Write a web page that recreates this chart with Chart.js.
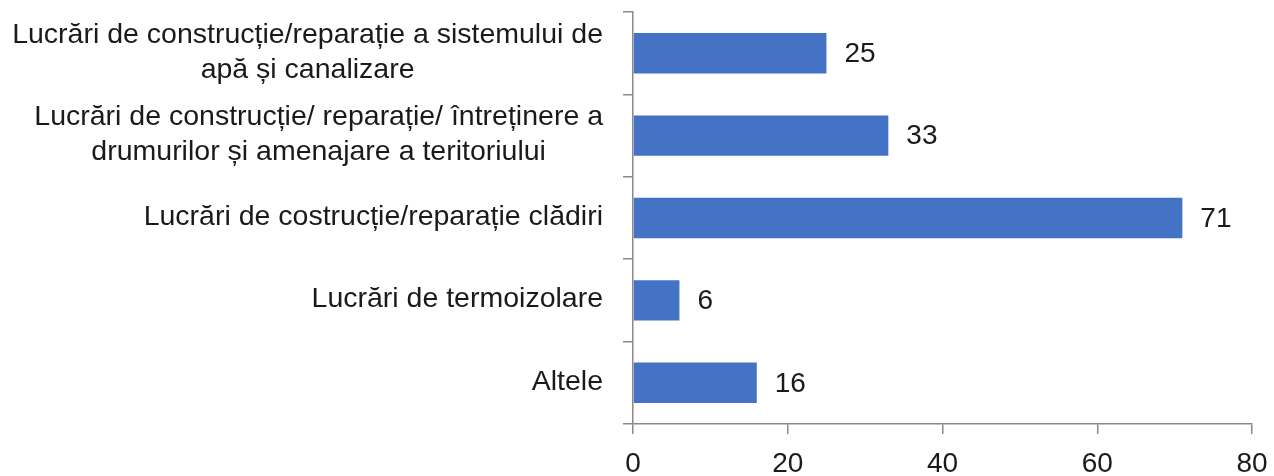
<!DOCTYPE html>
<html>
<head>
<meta charset="utf-8">
<script src="https://cdn.jsdelivr.net/npm/chart.js@4/dist/chart.umd.min.js"></script>
<style>
html,body{margin:0;padding:0;background:#fff;}
#wrap{width:1274px;height:476px;}
</style>
</head>
<body>
<div id="wrap"><canvas id="c" width="1274" height="476"></canvas></div>
<script>
const categories = [
  ["Lucrări de construcție/reparație a sistemului de", "apă și canalizare"],
  ["Lucrări de construcție/ reparație/ întreținere a", "drumurilor și amenajare a teritoriului"],
  ["Lucrări de costrucție/reparație clădiri"],
  ["Lucrări de termoizolare"],
  ["Altele"]
];
const values = [25, 33, 71, 6, 16];
const xTicks = [0, 20, 40, 60, 80];

const FONT = "'Liberation Sans', Arial, sans-serif";
const TEXT = '#1a1a1a';
const AXIS = '#8a8a8a';

const labelPlugin = {
  id: 'customLabels',
  afterDraw(chart) {
    const ctx = chart.ctx;
    const y = chart.scales.y;
    ctx.save();
    ctx.fillStyle = TEXT;
    ctx.font = '28.5px ' + FONT;
    ctx.textBaseline = 'middle';
    ctx.textAlign = 'center';
    const right = y.right - 10 - 20;
    const lineH = 35;
    categories.forEach((lines, i) => {
      const cy = y.getPixelForValue(i) - 1;
      const maxW = Math.max(...lines.map(l => ctx.measureText(l).width));
      const cx = right - maxW / 2;
      lines.forEach((l, k) => {
        ctx.fillText(l, cx, cy + (k - (lines.length - 1) / 2) * lineH);
      });
    });
    // value labels
    const meta = chart.getDatasetMeta(0);
    ctx.font = '28px ' + FONT;
    ctx.textAlign = 'left';
    meta.data.forEach((bar, i) => {
      ctx.fillText(String(values[i]), bar.x + 18, bar.y + 1);
    });
    ctx.restore();
  }
};

new Chart(document.getElementById('c'), {
  type: 'bar',
  data: {
    labels: categories,
    datasets: [{
      data: values,
      backgroundColor: '#4472C4',
      borderWidth: 0,
      barPercentage: 0.49,
      categoryPercentage: 1
    }]
  },
  plugins: [labelPlugin],
  options: {
    indexAxis: 'y',
    responsive: false,
    animation: false,
    devicePixelRatio: 1,
    layout: { padding: { top: 12, right: 22, left: 0, bottom: 0 } },
    plugins: { legend: { display: false }, tooltip: { enabled: false } },
    scales: {
      x: {
        min: 0, max: 80,
        afterBuildTicks(s) { s.ticks = xTicks.map(v => ({ value: v })); },
        afterFit(s) { s.height = 52; s.paddingLeft = 0; s.paddingRight = 0; },
        border: { display: true, color: AXIS, width: 1.5 },
        grid: { drawOnChartArea: false, drawTicks: true, tickLength: 10, color: AXIS, lineWidth: 1.5 },
        ticks: { color: TEXT, font: { family: FONT, size: 28 }, padding: 13, maxRotation: 0 }
      },
      y: {
        afterFit(s) { s.width = 633; s.paddingTop = 0; s.paddingBottom = 0; },
        border: { display: true, color: AXIS, width: 1.5 },
        grid: { drawOnChartArea: false, drawTicks: true, tickLength: 10, color: AXIS, lineWidth: 1.5, offset: true },
        ticks: { color: 'rgba(0,0,0,0)', font: { family: FONT, size: 28 } }
      }
    }
  }
});
</script>
</body>
</html>
